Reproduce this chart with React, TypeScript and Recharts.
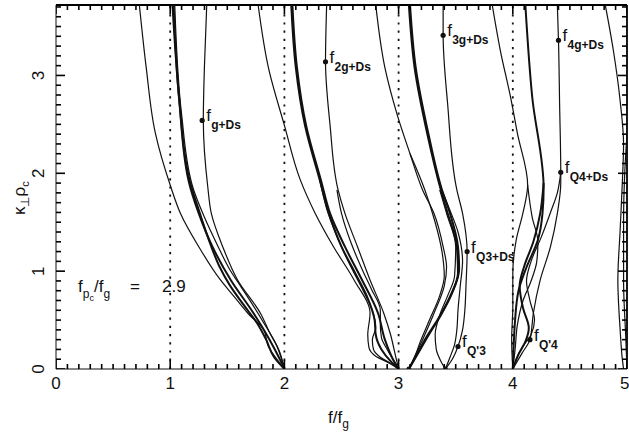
import React from 'react';
import { ComposedChart, Line, Scatter, XAxis, YAxis, ReferenceLine } from 'recharts';

type Pt = [number, number];

// dispersion branches as [f/fg, k⊥ρc] pairs, listed from k = 0 upward
const branchA1: Pt[] = [[2.0, 0], [1.94, 0.09], [1.86, 0.23], [1.82, 0.4], [1.68, 0.57], [1.56, 0.74], [1.44, 0.91], [1.25, 1.25], [1.09, 1.59], [1.0, 1.88], [0.87, 2.41], [0.79, 3.08], [0.73, 3.72]];
const branchA2: Pt[] = [[2.0, 0], [1.96, 0.1], [1.87, 0.3], [1.73, 0.57], [1.53, 0.91], [1.37, 1.25], [1.25, 1.59], [1.16, 1.93], [1.08, 2.74], [1.02, 3.72]];
const branchA3: Pt[] = [[2.0, 0], [1.95, 0.2], [1.88, 0.35], [1.79, 0.57], [1.59, 0.91], [1.46, 1.25], [1.36, 1.59], [1.33, 1.85], [1.29, 2.54], [1.3, 3.1], [1.32, 3.72]];
const branchA4: Pt[] = [[2.0, 0], [1.91, 0.12], [1.84, 0.3], [1.76, 0.47], [1.64, 0.66], [1.52, 0.86], [1.43, 1.05], [1.36, 1.25], [1.26, 1.59], [1.17, 1.93], [1.08, 2.74], [1.03, 3.72]];
const branchA5: Pt[] = [[2.0, 0], [1.97, 0.12], [1.92, 0.27], [1.83, 0.45], [1.72, 0.66], [1.62, 0.84], [1.52, 1.02], [1.42, 1.25], [1.3, 1.55], [1.2, 1.85], [1.1, 2.6], [1.04, 3.72]];

const branchB1: Pt[] = [[3.0, 0], [2.92, 0.06], [2.8, 0.13], [2.74, 0.22], [2.73, 0.35], [2.75, 0.57], [2.61, 0.91], [2.43, 1.25], [2.27, 1.59], [2.14, 1.93], [2.0, 2.49], [1.86, 3.08], [1.77, 3.72]];
const branchB2: Pt[] = [[3.0, 0], [2.95, 0.1], [2.88, 0.3], [2.82, 0.57], [2.68, 0.91], [2.53, 1.25], [2.4, 1.59], [2.32, 1.93], [2.19, 2.49], [2.11, 3.08], [2.07, 3.72]];
const branchB3: Pt[] = [[3.0, 0], [2.97, 0.15], [2.93, 0.35], [2.87, 0.57], [2.75, 0.91], [2.64, 1.25], [2.53, 1.59], [2.47, 1.83], [2.4, 2.49], [2.36, 3.14], [2.37, 3.72]];
const branchB4: Pt[] = [[3.0, 0], [2.93, 0.08], [2.85, 0.2], [2.8, 0.35], [2.79, 0.5], [2.72, 0.75], [2.62, 0.98], [2.5, 1.25], [2.39, 1.59], [2.31, 1.93], [2.18, 2.49], [2.1, 3.08], [2.06, 3.72]];
const branchB5: Pt[] = [[3.0, 0], [2.94, 0.05], [2.84, 0.12], [2.78, 0.2], [2.77, 0.3], [2.8, 0.42], [2.77, 0.6], [2.69, 0.8], [2.58, 1.05], [2.48, 1.3], [2.38, 1.6], [2.31, 1.93]];
const branchB6: Pt[] = [[3.0, 0], [2.96, 0.08], [2.9, 0.2], [2.85, 0.32], [2.84, 0.45], [2.84, 0.6], [2.76, 0.82], [2.68, 1.02], [2.58, 1.3], [2.5, 1.59], [2.46, 1.83]];

const branchC1: Pt[] = [[3.09, 0], [3.15, 0.15], [3.21, 0.3], [3.31, 0.57], [3.4, 0.85], [3.42, 1.04], [3.39, 1.25], [3.31, 1.59], [3.21, 1.83], [3.1, 2.2], [2.99, 2.59], [2.88, 3.08], [2.8, 3.72]];
const branchC2: Pt[] = [[3.09, 0], [3.16, 0.15], [3.24, 0.32], [3.34, 0.5], [3.45, 0.74], [3.52, 0.98], [3.51, 1.25], [3.43, 1.59], [3.37, 1.83], [3.25, 2.41], [3.14, 3.08], [3.09, 3.72]];
const branchC3: Pt[] = [[3.09, 0], [3.18, 0.18], [3.27, 0.36], [3.37, 0.55], [3.47, 0.78], [3.53, 1.02], [3.52, 1.25], [3.45, 1.59], [3.38, 1.83], [3.26, 2.41], [3.15, 3.08], [3.1, 3.72]];
const branchC4: Pt[] = [[3.41, 0], [3.47, 0.1], [3.52, 0.23], [3.56, 0.4], [3.58, 0.6], [3.59, 0.85], [3.6, 1.2], [3.56, 1.59], [3.51, 1.83], [3.43, 2.7], [3.39, 3.41], [3.39, 3.72]];
const branchC5: Pt[] = [[3.41, 0], [3.45, 0.12], [3.49, 0.25], [3.51, 0.4], [3.52, 0.6], [3.54, 0.85], [3.56, 1.1], [3.52, 1.4], [3.44, 1.65], [3.38, 1.83]];
const branchC6: Pt[] = [[3.41, 0], [3.37, 0.08], [3.33, 0.2], [3.32, 0.35], [3.36, 0.55], [3.43, 0.75], [3.49, 0.95], [3.5, 1.25], [3.42, 1.59], [3.36, 1.83]];
const branchC7: Pt[] = [[3.09, 0], [3.14, 0.12], [3.19, 0.28], [3.27, 0.5], [3.36, 0.75], [3.4, 0.95], [3.38, 1.2], [3.32, 1.5], [3.23, 1.83], [3.1, 2.2]];

const branchD1: Pt[] = [[4.0, 0], [3.99, 0.3], [4.0, 0.63], [4.0, 0.98], [4.03, 1.32], [4.09, 1.6], [4.13, 1.88], [4.04, 2.41], [3.98, 2.78], [3.89, 3.26], [3.82, 3.72]];
const branchD2: Pt[] = [[4.0, 0], [4.01, 0.3], [4.02, 0.5], [4.05, 0.8], [4.12, 1.04], [4.22, 1.32], [4.26, 1.59], [4.27, 1.85], [4.17, 2.78], [4.11, 3.72]];
const branchD3: Pt[] = [[4.0, 0], [4.08, 0.16], [4.15, 0.3], [4.18, 0.57], [4.24, 0.91], [4.33, 1.25], [4.39, 1.59], [4.42, 1.9], [4.42, 2.01], [4.41, 2.7], [4.4, 3.36], [4.39, 3.72]];
const branchD4: Pt[] = [[4.0, 0], [4.05, 0.15], [4.11, 0.28], [4.14, 0.42], [4.09, 0.62], [4.06, 0.85], [4.1, 1.05], [4.18, 1.3], [4.24, 1.59], [4.27, 1.9]];
const branchD5: Pt[] = [[4.0, 0], [4.03, 0.1], [4.08, 0.22], [4.16, 0.35], [4.19, 0.5], [4.15, 0.7], [4.12, 0.9], [4.16, 1.1], [4.25, 1.35], [4.33, 1.6], [4.39, 1.8], [4.42, 2.01]];
const branchD6: Pt[] = [[4.0, 0], [4.02, 0.2], [4.04, 0.45], [4.09, 0.7], [4.16, 0.9], [4.21, 1.1], [4.22, 1.3], [4.17, 1.55], [4.13, 1.88]];

const branchE1: Pt[] = [[4.97, 0], [4.96, 0.09], [4.94, 0.4], [4.92, 0.91], [4.94, 1.42], [4.96, 1.93], [4.97, 2.3], [4.94, 2.74], [4.88, 3.26], [4.81, 3.72]];
const branchE2: Pt[] = [[5.0, 0], [4.99, 0.3], [4.97, 0.9], [4.97, 1.5], [4.98, 2.0], [5.0, 2.4]];

const thinBranches = [branchA1, branchA3, branchA5, branchB1, branchB3, branchB5, branchB6, branchC1, branchC4, branchC5, branchC6, branchC7, branchD1, branchD3, branchD5, branchD6, branchE1, branchE2];
const thickBranches = [branchA2, branchA4, branchB2, branchB4, branchC2, branchC3, branchD2, branchD4];

// labelled points on the branches
const markers = [
  { f: 1.28, k: 2.54, sub: 'g+Ds' },
  { f: 2.36, k: 3.14, sub: '2g+Ds' },
  { f: 3.39, k: 3.41, sub: '3g+Ds' },
  { f: 4.4, k: 3.36, sub: '4g+Ds' },
  { f: 3.6, k: 1.2, sub: 'Q3+Ds' },
  { f: 4.42, k: 2.01, sub: 'Q4+Ds' },
  { f: 3.52, k: 0.23, sub: "Q'3" },
  { f: 4.15, k: 0.3, sub: "Q'4" },
];
const upperHybrid = [{ f: 3.09, k: 0 }, { f: 3.41, k: 0 }];
const densityRatio = '2.9';

const harmonics = [1, 2, 3, 4];
const xLabels = [0, 1, 2, 3, 4, 5];
const yLabels = [0, 1, 2, 3];
const xTicks = Array.from({ length: 51 }, (_, i) => i / 10);
const yTicks = Array.from({ length: 38 }, (_, i) => i / 10);

const X_MAX = 5;
const Y_MAX = 3.72;
// inward tick lengths in pixels
const MAJOR_LEN = 9;
const MINOR_LEN = 5;

const FONT = "'Liberation Sans', Arial, Helvetica, sans-serif";
const INK = '#111';

const isMajor = (v: number) => Math.abs(v - Math.round(v)) < 1e-6;
const toRows = (pts: Pt[]) => pts.slice().reverse().map(([f, k]) => ({ f, k }));

// tick positions on each side of the frame; dx/dy give the inward direction
const frameTicks = [
  ...xTicks.map((t) => ({ f: t, k: 0, dx: 0, dy: -1, major: isMajor(t) })),
  ...xTicks.map((t) => ({ f: t, k: Y_MAX, dx: 0, dy: 1, major: isMajor(t) })),
  ...yTicks.map((t) => ({ f: 0, k: t, dx: 1, dy: 0, major: isMajor(t) })),
  ...yTicks.map((t) => ({ f: X_MAX, k: t, dx: -1, dy: 0, major: isMajor(t) })),
];

const TickShape = (props: any) => {
  const { cx, cy, payload } = props;
  const len = payload.major ? MAJOR_LEN : MINOR_LEN;
  return <line x1={cx} y1={cy} x2={cx + payload.dx * len} y2={cy + payload.dy * len} stroke="#000" strokeWidth={1.6} />;
};

const MarkerShape = (props: any) => {
  const { cx, cy, payload } = props;
  return (
    <g>
      <circle cx={cx} cy={cy} r={2.6} fill={INK} />
      <text x={cx + 4} y={cy + 1} fontSize={17} fontFamily={FONT} fill={INK}>f</text>
      <text x={cx + 9} y={cy + 9} fontSize={12} fontWeight="bold" fontFamily={FONT} fill={INK}>{payload.sub}</text>
    </g>
  );
};

const UpperHybridShape = (props: any) => {
  const { cx, cy, index } = props;
  return (
    <g>
      <circle cx={cx} cy={cy} r={2.4} fill={INK} />
      {index === 0 ? (
        <g fontFamily={FONT} fill={INK}>
          <text x={cx + 1} y={cy + 14} fontSize={13}>↖</text>
          <text x={cx + 11} y={cy + 13} fontSize={17}>f</text>
          <text x={cx + 16} y={cy + 19} fontSize={12} fontWeight="bold">UH</text>
        </g>
      ) : (
        <text x={cx} y={cy + 13} fontSize={13} textAnchor="middle" fontFamily={FONT} fill={INK}>↑</text>
      )}
    </g>
  );
};

const axisText = { fontSize: 17, fill: INK, fontFamily: FONT };

export default function App() {
  return (
    <div style={{ position: 'absolute', left: 0, top: 0, width: 629, height: 435, background: '#fff' }}>
      <ComposedChart width={629} height={435} margin={{ top: 5, right: 2, bottom: 0, left: 0 }}>
        <XAxis dataKey="f" type="number" domain={[0, X_MAX]} ticks={xLabels} allowDataOverflow height={66}
          stroke={INK} tick={axisText} tickLine={{ stroke: 'transparent' }} />
        <YAxis dataKey="k" type="number" domain={[0, Y_MAX]} ticks={yLabels} allowDataOverflow width={56}
          stroke={INK} tickMargin={12} tick={{ ...axisText, angle: -90, textAnchor: 'middle' }}
          tickLine={{ stroke: 'transparent' }} />

        {/* top and right edges of the frame */}
        <ReferenceLine y={Y_MAX} stroke="#000" strokeWidth={1.8} ifOverflow="visible" />
        <ReferenceLine x={X_MAX} stroke="#000" strokeWidth={1.8} ifOverflow="visible" />

        {harmonics.map((h) => (
          <ReferenceLine key={`h${h}`} x={h} stroke={INK} strokeWidth={1.8} strokeDasharray="2.2 6" />
        ))}

        {/* inward ticks on all four sides */}
        <Scatter data={frameTicks} dataKey="k" shape={<TickShape />} isAnimationActive={false} />

        {thinBranches.map((b, i) => (
          <Line key={`thin${i}`} data={toRows(b)} dataKey="k" type="monotoneY" stroke={INK} strokeWidth={1.2}
            dot={false} activeDot={false} isAnimationActive={false} />
        ))}
        {thickBranches.map((b, i) => (
          <Line key={`thick${i}`} data={toRows(b)} dataKey="k" type="monotoneY" stroke={INK} strokeWidth={2}
            dot={false} activeDot={false} isAnimationActive={false} />
        ))}

        <Scatter data={markers} dataKey="k" shape={<MarkerShape />} isAnimationActive={false} />
        <Scatter data={upperHybrid} dataKey="k" shape={<UpperHybridShape />} isAnimationActive={false} />
      </ComposedChart>

      <svg width={629} height={435} style={{ position: 'absolute', left: 0, top: 0, pointerEvents: 'none' }}
        fontFamily={FONT} fill={INK}>
        <text transform="translate(25,215) rotate(-90)" fontSize={17}>
          κ<tspan fontSize={12} dy={4}>⊥</tspan><tspan dy={-4}>ρ</tspan><tspan fontSize={11} dy={4}>c</tspan>
        </text>
        <text x={328} y={423} fontSize={17}>
          f/f<tspan fontSize={12} dy={5}>g</tspan>
        </text>
        <text x={78} y={292} fontSize={17}>
          f<tspan fontSize={12} dy={6}>p</tspan><tspan fontSize={9} dy={3}>c</tspan>
          <tspan fontSize={17} dy={-9}>/f</tspan><tspan fontSize={12} dy={6}>g</tspan>
          <tspan fontSize={17} dy={-6} x={130}>=</tspan><tspan x={162}>{densityRatio}</tspan>
        </text>
      </svg>
    </div>
  );
}
